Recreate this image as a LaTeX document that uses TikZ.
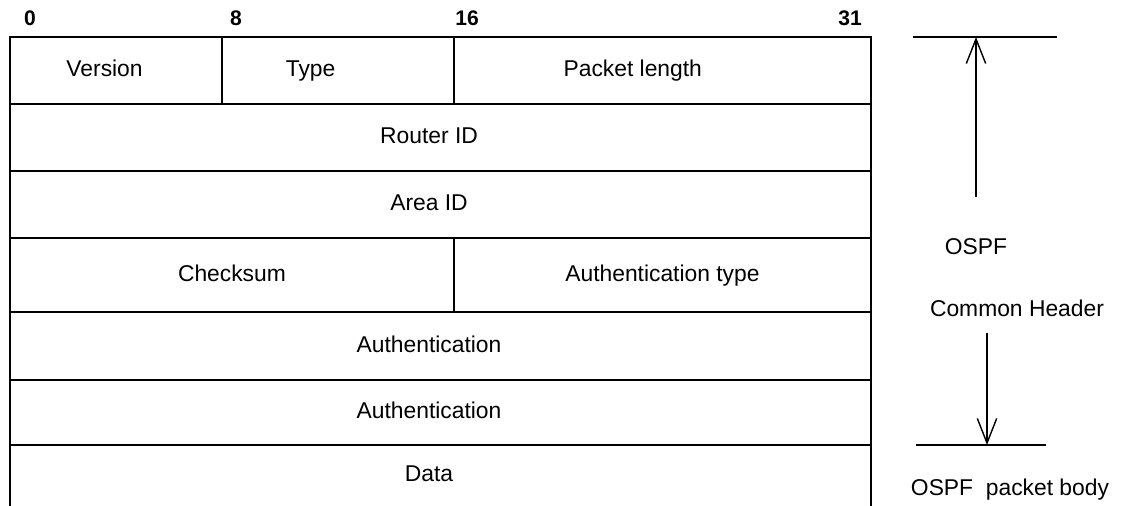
\documentclass[tikz,border=0pt]{standalone}
\usepackage{fontspec}
\setsansfont{Liberation Sans}
\usepackage{tikz}
\usetikzlibrary{arrows.meta}

\begin{document}
\begin{tikzpicture}[x=0.02cm,y=-0.02cm,
    field/.style={rectangle,draw,line width=1pt,anchor=north west,inner sep=0pt,outer sep=0pt,
                  text height=0.95em,text depth=0.21em,
                  font=\sffamily\fontsize{13}{15}\selectfont},
    bitno/.style={font=\sffamily\bfseries\fontsize{12}{14}\selectfont,inner sep=0pt},
    note/.style={font=\sffamily\fontsize{13}{15}\selectfont,inner sep=0pt},
    span/.style={line width=0.8pt,-{Straight Barb[length=14pt,width=11pt,line width=0.8pt]}}]
    \useasboundingbox (0,0) rectangle (1132,506);
    %
    \node[bitno] (b0)  at (30,18)  {0};
    \node[bitno] (b8)  at (236,18) {8};
    \node[bitno] (b16) at (467,18) {16};
    \node[bitno] (b31) at (850,18) {31};
    %
    \node[field,minimum width=4.24cm,minimum height=1.34cm] (version) at (10,37)  {Version\hspace*{1em}};
    \node[field,minimum width=4.64cm,minimum height=1.34cm] (type)    at (222,37) {Type\hspace*{2.4em}};
    \node[field,minimum width=8.34cm,minimum height=1.34cm] (plen)    at (454,37) {Packet length\hspace*{2.6em}};
    %
    \node[field,minimum width=17.22cm,minimum height=1.34cm] (router) at (10,104) {Router ID\hspace*{1em}};
    \node[field,minimum width=17.22cm,minimum height=1.34cm] (area)   at (10,171) {Area ID\hspace*{1em}};
    %
    \node[field,minimum width=8.88cm,minimum height=1.48cm] (cksum)  at (10,238)  {Checksum};
    \node[field,minimum width=8.34cm,minimum height=1.48cm] (autype) at (454,238) {Authentication type};
    %
    \node[field,minimum width=17.22cm,minimum height=1.36cm] (auth1) at (10,312) {Authentication\hspace*{1em}};
    \node[field,minimum width=17.22cm,minimum height=1.30cm] (auth2) at (10,380) {Authentication\hspace*{1em}};
    %
    \node[field,draw=none,minimum width=17.22cm,minimum height=1.22cm] (data) at (10,445) {Data\hspace*{1em}};
    \draw[line width=1pt] (data.north west) -- (data.south west);
    \draw[line width=1pt] (data.north east) -- (data.south east);
    %
    \coordinate (hdtop) at (976,37);
    \coordinate (upstart) at (976,197);
    \coordinate (dnstart) at (987,333);
    \coordinate (hdbot) at (987,445);
    \draw[line width=1pt] (913,37) -- (1057,37);
    \draw[line width=1pt] (916,445) -- (1046,445);
    \draw[span] (upstart) -- (hdtop);
    \draw[span] (dnstart) -- (hdbot);
    %
    \node[note] (ospf)   at (976,247)  {OSPF};
    \node[note] (common) at (1017,308) {Common Header};
    \node[note] (body)   at (1010,490) {OSPF\ \ packet body};
\end{tikzpicture}
\end{document}
